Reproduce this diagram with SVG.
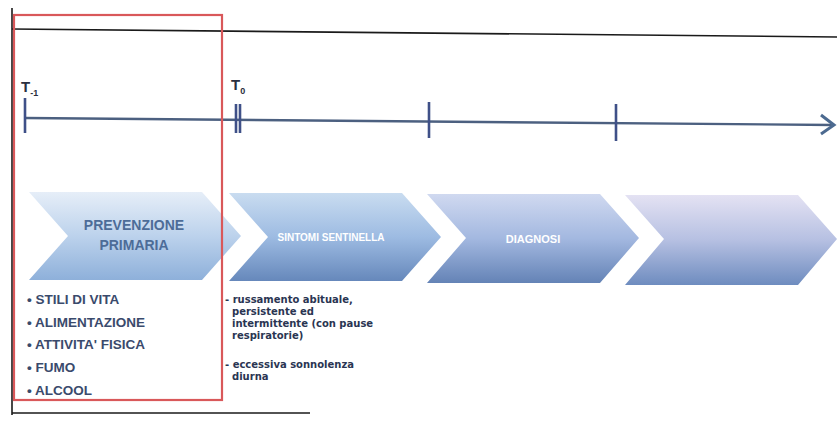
<svg xmlns="http://www.w3.org/2000/svg" width="837" height="421" viewBox="0 0 837 421">
<defs>
<linearGradient id="g1" x1="0" y1="0" x2="0" y2="1">
<stop offset="0" stop-color="#e6eef8"/><stop offset="0.5" stop-color="#bcd2ec"/><stop offset="1" stop-color="#8eb0da"/>
</linearGradient>
<linearGradient id="g2" x1="0" y1="0" x2="0" y2="1">
<stop offset="0" stop-color="#c9dcf0"/><stop offset="0.5" stop-color="#9dbbe2"/><stop offset="1" stop-color="#6688bb"/>
</linearGradient>
<linearGradient id="g3" x1="0" y1="0" x2="0" y2="1">
<stop offset="0" stop-color="#d0d9f0"/><stop offset="0.5" stop-color="#a3b8e0"/><stop offset="1" stop-color="#6483b6"/>
</linearGradient>
<linearGradient id="g4" x1="0" y1="0" x2="0" y2="1">
<stop offset="0" stop-color="#e4e2f3"/><stop offset="0.5" stop-color="#b6c0e2"/><stop offset="1" stop-color="#6e8cbf"/>
</linearGradient>
<style>
.frame{stroke:#1a1a1a;stroke-width:1.6;fill:none}
.red{stroke:#d9585a;stroke-width:2.2;fill:none}
.axis{stroke:#4c6080;stroke-width:2.4;fill:none}
.tick{stroke:#3f5088;stroke-width:2.6}
.tl{font-family:"Liberation Sans",Arial,sans-serif;font-weight:bold;fill:#2a2f40}
.bul{font-family:"Liberation Sans",Arial,sans-serif;font-weight:bold;font-size:13.5px;fill:#3a4a6c}
.sm{font-family:"DejaVu Sans",sans-serif;font-weight:bold;font-size:10px;fill:#2a3552}
.ct{font-family:"Liberation Sans",Arial,sans-serif;font-weight:bold;text-anchor:middle}
</style>
</defs>
<g id="frame">
<line class="frame" x1="12" y1="8" x2="12" y2="415"/>
<line class="frame" x1="12" y1="29" x2="837" y2="37"/>
<line class="frame" x1="12" y1="413" x2="310" y2="413"/>
</g>
<g id="connectors">
<line class="axis" x1="25" y1="118" x2="833" y2="125"/>
<polyline points="821,115 834,125 821,134" fill="none" stroke="#4c6a90" stroke-width="3"/>
<line class="tick" x1="25" y1="98" x2="25" y2="133"/>
<line class="tick" x1="236" y1="104" x2="236" y2="133"/>
<line class="tick" x1="240" y1="104" x2="240" y2="133"/>
<line class="tick" x1="429" y1="102" x2="429" y2="138"/>
<line class="tick" x1="616" y1="104" x2="616" y2="141"/>
</g>
<g id="t-1"><text class="tl" x="21" y="92" font-size="15">T<tspan font-size="9" dy="4">-1</tspan></text></g>
<g id="t0"><text class="tl" x="231" y="90" font-size="15">T<tspan font-size="9" dy="4">0</tspan></text></g>
<g id="prevenzione">
<polygon points="29,192 202,192 241,236 202,280 29,280 68,236" fill="url(#g1)"/>
<text class="ct" x="134" y="230" font-size="14" fill="#4d6c98">PREVENZIONE</text>
<text class="ct" x="134" y="250" font-size="14" fill="#4d6c98">PRIMARIA</text>
</g>
<g id="sintomi">
<polygon points="229,193 402,193 441,237 402,281 229,281 268,237" fill="url(#g2)"/>
<text class="ct" x="331" y="241" font-size="10" fill="#ffffff">SINTOMI SENTINELLA</text>
</g>
<g id="diagnosi">
<polygon points="427,194 600,194 639,238 600,283 427,283 466,238" fill="url(#g3)"/>
<text class="ct" x="533" y="243" font-size="11" fill="#ffffff">DIAGNOSI</text>
</g>
<g id="fase4">
<polygon points="625,195 798,195 837,239 798,285 625,285 664,239" fill="url(#g4)"/>
</g>
<g id="fattori">
<text class="bul" x="27" y="304">• STILI DI VITA</text>
<text class="bul" x="27" y="327">• ALIMENTAZIONE</text>
<text class="bul" x="27" y="349">• ATTIVITA' FISICA</text>
<text class="bul" x="27" y="372">• FUMO</text>
<text class="bul" x="27" y="395">• ALCOOL</text>
</g>
<g id="sintomi-testo">
<text class="sm" x="225" y="303">- russamento abituale,</text>
<text class="sm" x="232" y="315">persistente ed</text>
<text class="sm" x="232" y="327">intermittente (con pause</text>
<text class="sm" x="232" y="339">respiratorie)</text>
<text class="sm" x="225" y="368">- eccessiva sonnolenza</text>
<text class="sm" x="232" y="380">diurna</text>
</g>
<g id="red-box">
<rect class="red" x="14" y="15" width="208" height="385"/>
</g>
</svg>
